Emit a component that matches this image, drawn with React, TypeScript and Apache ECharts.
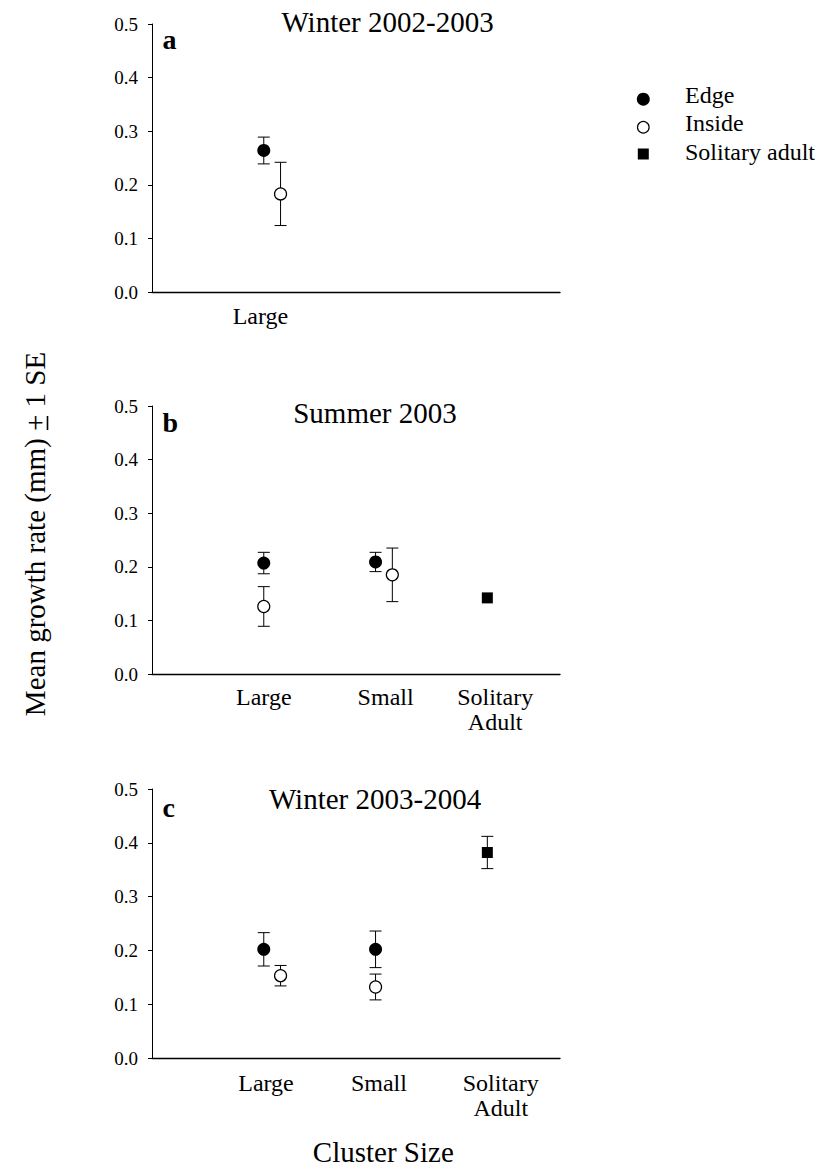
import React, { useEffect, useRef } from "react";
import * as echarts from "echarts";

// ---- data ----
const categories = ["Large", "Small", "Solitary\nAdult"];
const legendNames = ["Edge", "Inside", "Solitary adult"];
const panelTitles = ["Winter 2002-2003", "Summer 2003", "Winter 2003-2004"];
const panelLetters = ["a", "b", "c"];
const yTickValues = [0, 0.1, 0.2, 0.3, 0.4, 0.5];

// Winter 2002-2003: only large clusters were measured
const edgeMeanA = [0.264];
const edgeSeA = [0.025];
const insideMeanA = [0.183];
const insideSeA = [0.059];
const solitaryMeanA: (number | null)[] = [null, null, null];
const solitarySeA: (number | null)[] = [null, null, null];

// Summer 2003
const edgeMeanB = [0.207, 0.209];
const edgeSeB = [0.02, 0.018];
const insideMeanB = [0.126, 0.185];
const insideSeB = [0.037, 0.05];
const solitaryMeanB: (number | null)[] = [null, null, 0.142];
const solitarySeB: (number | null)[] = [null, null, null];

// Winter 2003-2004
const edgeMeanC = [0.202, 0.202];
const edgeSeC = [0.031, 0.034];
const insideMeanC = [0.153, 0.132];
const insideSeC = [0.019, 0.024];
const solitaryMeanC: (number | null)[] = [null, null, 0.382];
const solitarySeC: (number | null)[] = [null, null, 0.03];

// ---- layout ----
const FONT = "Liberation Serif, Times New Roman, serif";
const X_MAX = 3.65;
const GRID_LEFT = 152;
const GRID_WIDTH = 408;

const panels = [
  {
    top: 24, height: 268,
    edge: edgeMeanA, edgeSe: edgeSeA, inside: insideMeanA, insideSe: insideSeA,
    solitary: solitaryMeanA, solitarySe: solitarySeA,
    insideDodge: [0.15, 0, 0],
    labelAt: [0.97],
    labelMargin: 11,
    titleX: 387.5, titleY: 21.5, letterY: 39.5,
  },
  {
    top: 406, height: 268,
    edge: edgeMeanB, edgeSe: edgeSeB, inside: insideMeanB, insideSe: insideSeB,
    solitary: solitaryMeanB, solitarySe: solitarySeB,
    insideDodge: [0, 0.15, 0],
    labelAt: [1.0, 2.09, 3.07],
    labelMargin: 10,
    titleX: 375, titleY: 413.3, letterY: 422.5,
  },
  {
    top: 789, height: 269,
    edge: edgeMeanC, edgeSe: edgeSeC, inside: insideMeanC, insideSe: insideSeC,
    solitary: solitaryMeanC, solitarySe: solitarySeC,
    insideDodge: [0.15, 0, 0],
    labelAt: [1.02, 2.03, 3.12],
    labelMargin: 12,
    titleX: 375, titleY: 799.3, letterY: 807,
  },
];

function points(means: (number | null)[], dodge: number[]) {
  const out: number[][] = [];
  means.forEach((m, i) => {
    if (m != null) out.push([i + 1 + dodge[i], m]);
  });
  return out;
}

function bars(means: (number | null)[], ses: (number | null)[], dodge: number[]) {
  const out: number[][] = [];
  means.forEach((m, i) => {
    const se = ses[i];
    if (m != null && se != null) out.push([i + 1 + dodge[i], m - se, m + se]);
  });
  return out;
}

const CAP = 6;
const errorBarRender = (params: any, api: any) => {
  const x = api.value(0);
  const top = api.coord([x, api.value(2)]);
  const bot = api.coord([x, api.value(1)]);
  const style = { stroke: "#000", lineWidth: 1 };
  return {
    type: "group",
    children: [
      { type: "line", shape: { x1: top[0], y1: top[1], x2: bot[0], y2: bot[1] }, style },
      { type: "line", shape: { x1: top[0] - CAP, y1: top[1], x2: top[0] + CAP, y2: top[1] }, style },
      { type: "line", shape: { x1: bot[0] - CAP, y1: bot[1], x2: bot[0] + CAP, y2: bot[1] }, style },
    ],
  };
};

function buildOption() {
  const zeroDodge = [0, 0, 0];
  const grid: any[] = [];
  const xAxis: any[] = [];
  const yAxis: any[] = [];
  const series: any[] = [];
  const graphic: any[] = [];

  panels.forEach((p, i) => {
    grid.push({ left: GRID_LEFT, width: GRID_WIDTH, top: p.top, height: p.height });
    xAxis.push({
      type: "value",
      gridIndex: i,
      min: 0,
      max: X_MAX,
      splitLine: { show: false },
      axisTick: { show: false },
      axisLine: { lineStyle: { color: "#000", width: 1.3 } },
      axisLabel: {
        customValues: p.labelAt,
        margin: p.labelMargin,
        color: "#000",
        fontFamily: FONT,
        fontSize: 24,
        lineHeight: 25,
        formatter: (v: number) => categories[Math.round(v) - 1] ?? "",
      },
    });
    yAxis.push({
      type: "value",
      gridIndex: i,
      min: yTickValues[0],
      max: yTickValues[yTickValues.length - 1],
      interval: 0.1,
      splitLine: { show: false },
      axisLine: { show: true, lineStyle: { color: "#000", width: 1 } },
      axisTick: { show: true, length: 4, lineStyle: { color: "#000" } },
      axisLabel: {
        color: "#000",
        fontFamily: FONT,
        fontSize: 19,
        margin: 14,
        formatter: (v: number) => v.toFixed(1),
      },
    });

    const common = { xAxisIndex: i, yAxisIndex: i, silent: true };
    // error bars, drawn under the symbols
    series.push({
      ...common,
      type: "custom",
      z: 1,
      renderItem: errorBarRender,
      encode: { x: 0, y: [1, 2] },
      data: [
        ...bars(p.edge, p.edgeSe, zeroDodge),
        ...bars(p.inside, p.insideSe, p.insideDodge),
        ...bars(p.solitary, p.solitarySe, zeroDodge),
      ],
    });
    series.push({
      ...common,
      type: "scatter",
      name: legendNames[0],
      z: 3,
      symbol: "circle",
      symbolSize: 13,
      itemStyle: { color: "#000", opacity: 1 },
      data: points(p.edge, zeroDodge),
    });
    series.push({
      ...common,
      type: "scatter",
      name: legendNames[1],
      z: 3,
      symbol: "circle",
      symbolSize: 12,
      itemStyle: { color: "#fff", borderColor: "#000", borderWidth: 1.2, opacity: 1 },
      data: points(p.inside, p.insideDodge),
    });
    series.push({
      ...common,
      type: "scatter",
      name: legendNames[2],
      z: 3,
      symbol: "rect",
      symbolSize: 11,
      itemStyle: { color: "#000", opacity: 1 },
      data: points(p.solitary, zeroDodge),
    });

    graphic.push({
      type: "text",
      x: p.titleX,
      y: p.titleY,
      style: {
        text: panelTitles[i],
        fontFamily: FONT,
        fontSize: 29,
        fill: "#000",
        align: "center",
        verticalAlign: "middle",
      },
    });
    graphic.push({
      type: "text",
      x: 162.5,
      y: p.letterY,
      style: {
        text: panelLetters[i],
        fontFamily: FONT,
        fontSize: 28,
        fontWeight: "bold",
        fill: "#000",
        align: "left",
        verticalAlign: "middle",
      },
    });
  });

  // y-axis title with an underlined plus sign
  graphic.push({
    type: "text",
    x: 35,
    y: 534,
    rotation: Math.PI / 2,
    style: {
      text: "Mean growth rate (mm) + 1 SE",
      fontFamily: FONT,
      fontSize: 29,
      fill: "#000",
      align: "center",
      verticalAlign: "middle",
    },
  });
  graphic.push({
    type: "line",
    shape: { x1: 47.5, y1: 416, x2: 47.5, y2: 430 },
    style: { stroke: "#000", lineWidth: 1.6 },
  });

  // x-axis title
  graphic.push({
    type: "text",
    x: 383.3,
    y: 1152,
    style: {
      text: "Cluster Size",
      fontFamily: FONT,
      fontSize: 29,
      fill: "#000",
      align: "center",
      verticalAlign: "middle",
    },
  });

  // legend
  const legendX = 643.3;
  const legendTextX = 685;
  graphic.push({ type: "circle", shape: { cx: legendX, cy: 99.2, r: 6.5 }, style: { fill: "#000" } });
  graphic.push({
    type: "circle",
    shape: { cx: legendX, cy: 127.3, r: 5.8 },
    style: { fill: "#fff", stroke: "#000", lineWidth: 1.2 },
  });
  graphic.push({ type: "rect", shape: { x: 637.8, y: 148.5, width: 11, height: 11 }, style: { fill: "#000" } });
  [95, 123.4, 152].forEach((y, k) => {
    graphic.push({
      type: "text",
      x: legendTextX,
      y,
      style: {
        text: legendNames[k],
        fontFamily: FONT,
        fontSize: 24,
        fill: "#000",
        align: "left",
        verticalAlign: "middle",
      },
    });
  });

  return {
    animation: false,
    backgroundColor: "#fff",
    grid,
    xAxis,
    yAxis,
    series,
    graphic,
  };
}

export default function App() {
  const ref = useRef<HTMLDivElement>(null);
  useEffect(() => {
    if (!ref.current) return;
    const chart = echarts.init(ref.current, null, { renderer: "svg" });
    chart.setOption(buildOption());
    return () => chart.dispose();
  }, []);
  return (
    <div
      ref={ref}
      style={{ position: "absolute", left: 0, top: 0, width: 823, height: 1167, background: "#fff" }}
    />
  );
}
